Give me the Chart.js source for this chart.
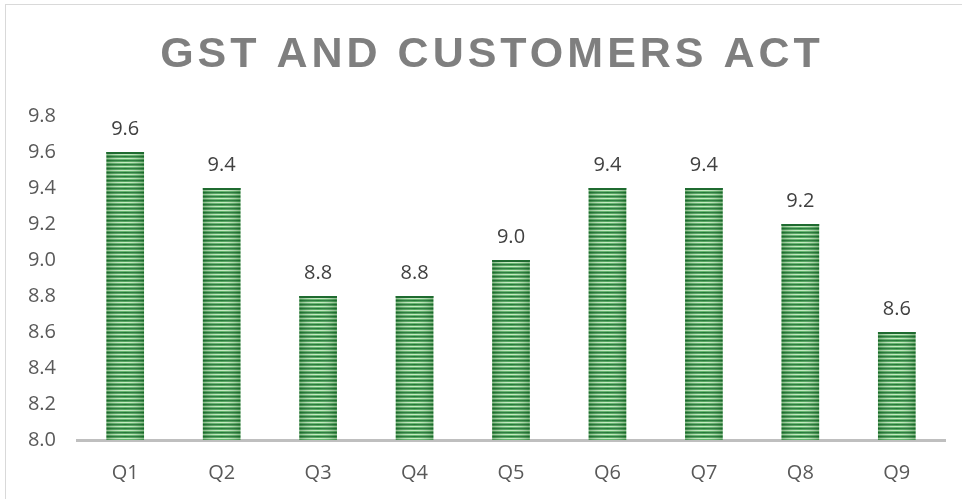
<!DOCTYPE html>
<html>
<head>
<meta charset="utf-8">
<script src="https://cdn.jsdelivr.net/npm/chart.js@4/dist/chart.umd.min.js"></script>
<style>
  html, body { margin: 0; padding: 0; background: #fff; }
  #wrap { position: relative; width: 962px; height: 499px; }
  #frame { position: absolute; left: 5px; top: 4px; width: 970px; height: 510px; border: 1px solid #d9d9d9; box-sizing: border-box; pointer-events: none; }
  canvas { display: block; }
</style>
</head>
<body>
<div id="wrap">
  <canvas id="chart" width="962" height="499"></canvas>
  <div id="frame"></div>
</div>
<script>
var titleText = 'GST AND CUSTOMERS ACT';
var quarters = ['Q1', 'Q2', 'Q3', 'Q4', 'Q5', 'Q6', 'Q7', 'Q8', 'Q9'];
var scores = [9.6, 9.4, 8.8, 8.8, 9.0, 9.4, 9.4, 9.2, 8.6];
var axisMin = 8.0;
var axisMax = 9.8;
var axisStep = 0.2;

var FONT = '"Open Sans", "Liberation Sans", sans-serif';

function stripePattern() {
  var c = document.createElement('canvas');
  c.width = 8;
  c.height = 4;
  var x = c.getContext('2d');
  var rows = ['#1a7030', '#4aa255', '#c3e9bf', '#5cb365'];
  for (var i = 0; i < rows.length; i++) {
    x.fillStyle = rows[i];
    x.fillRect(0, i, 8, 1);
  }
  return x.createPattern(c, 'repeat');
}

var barShade = {
  id: 'barShade',
  afterDatasetsDraw: function (chart) {
    var ctx = chart.ctx;
    var meta = chart.getDatasetMeta(0);
    var bottom = chart.chartArea.bottom;
    ctx.save();
    meta.data.forEach(function (bar, i) {
      var left = bar.x - bar.width / 2;
      var g = ctx.createLinearGradient(left, 0, left + bar.width, 0);
      g.addColorStop(0, 'rgba(20,80,30,0.35)');
      g.addColorStop(0.5, 'rgba(255,255,255,0.05)');
      g.addColorStop(1, 'rgba(20,80,30,0.35)');
      ctx.fillStyle = g;
      ctx.fillRect(left, bar.y, bar.width, bottom - bar.y);
      ctx.fillStyle = '#1f6b30';
      ctx.fillRect(left, bar.y, bar.width, 2);

      ctx.fillStyle = '#404040';
      ctx.font = '20px ' + FONT;
      ctx.textAlign = 'center';
      ctx.textBaseline = 'bottom';
      ctx.fillText(scores[i].toFixed(1), bar.x, bar.y - 13);
    });
    ctx.restore();
  },
  afterDraw: function (chart) {
    var ctx = chart.ctx;
    ctx.save();
    ctx.font = 'bold 43px "Liberation Sans", sans-serif';
    ctx.fillStyle = '#7f7f7f';
    ctx.textAlign = 'center';
    ctx.textBaseline = 'middle';
    ctx.letterSpacing = '4px';
    ctx.fillText(titleText, 492, 55);
    ctx.restore();
  }
};

new Chart(document.getElementById('chart'), {
  type: 'bar',
  data: {
    labels: quarters,
    datasets: [{
      data: scores,
      backgroundColor: stripePattern(),
      borderWidth: 0,
      barPercentage: 0.39,
      categoryPercentage: 1
    }]
  },
  options: {
    responsive: false,
    animation: false,
    layout: { padding: { top: 116, right: 17, bottom: 0, left: 0 } },
    plugins: { legend: { display: false }, tooltip: { enabled: false } },
    scales: {
      x: {
        grid: { display: false },
        border: { display: true, color: '#bfbfbf', width: 3 },
        ticks: { color: '#595959', font: { family: FONT, size: 20 }, padding: 13 },
        afterFit: function (s) { s.height = 59; }
      },
      y: {
        min: axisMin,
        max: axisMax,
        grid: { display: false },
        border: { display: false },
        ticks: {
          stepSize: axisStep,
          color: '#595959',
          font: { family: FONT, size: 20 },
          padding: 13,
          callback: function (v) { return v.toFixed(1); }
        },
        afterFit: function (s) { s.width = 77; }
      }
    }
  },
  plugins: [barShade]
});
</script>
</body>
</html>
